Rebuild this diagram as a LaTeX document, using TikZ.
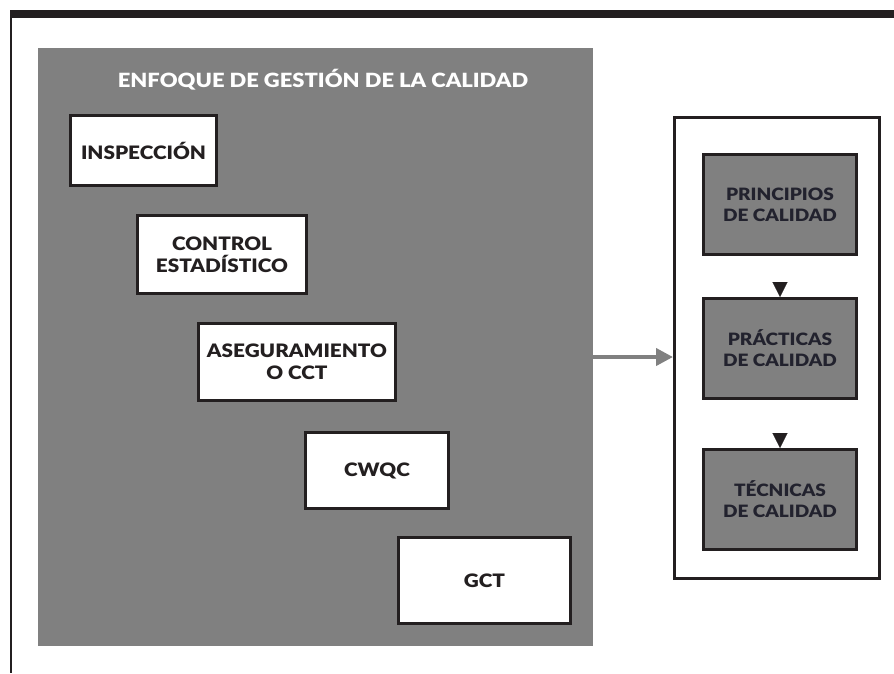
\documentclass[tikz,border=0pt]{standalone}
\usepackage{fontspec}
\setmainfont{Lato}[FakeStretch=1.12,BoldFont={Lato Black},BoldFeatures={FakeStretch=1.12}]
\usetikzlibrary{arrows.meta}
\definecolor{ink}{HTML}{231F20}
\definecolor{panelgray}{HTML}{808080}
\definecolor{navyink}{HTML}{22222E}
\begin{document}
\begin{tikzpicture}[x=1pt,y=-1pt,
  lbox/.style={draw=ink,line width=3pt,fill=white,text=ink,align=center,
    inner sep=0pt,anchor=north west,font=\bfseries\fontsize{18.5}{22}\selectfont},
  rbox/.style={draw=ink,line width=3pt,fill=panelgray,text=navyink,align=center,
    inner sep=0pt,anchor=north west,minimum width=153pt,minimum height=100pt,
    font=\bfseries\fontsize{17}{21}\selectfont},
  tri/.style={-{Triangle[width=15pt,length=15pt]},line width=0.1pt,draw=ink,fill=ink},
  grayarrow/.style={draw=panelgray,line width=4pt,-{Triangle[width=17pt,length=17pt]}}]
\useasboundingbox (0,0) rectangle (894,673);
% frame
\fill[ink] (10,9.5) rectangle (894,18.3);
\draw[ink,line width=2pt] (11,18) -- (11,673);
% grey panel
\node[fill=panelgray,draw=none,inner sep=0pt,anchor=north west,minimum width=555pt,minimum height=598pt] (panel) at (38,48) {};
\node[text=white,font=\bfseries\fontsize{19.6}{20}\selectfont] (title) at (323,80) {ENFOQUE DE GESTIÓN DE LA CALIDAD};
% left boxes
\node[lbox,minimum width=146pt,minimum height=70pt] (insp) at (69,114) {INSPECCIÓN};
\node[lbox,minimum width=169pt,minimum height=78pt] (ctrl) at (136,214) {CONTROL\\ESTADÍSTICO};
\node[lbox,minimum width=197pt,minimum height=77pt] (aseg) at (197,322) {ASEGURAMIENTO\\O CCT};
\node[lbox,minimum width=143pt,minimum height=76pt] (cwqc) at (304,431) {CWQC};
\node[lbox,minimum width=172pt,minimum height=86pt] (gct) at (397,536) {GCT};
% right side
\node[draw=ink,line width=3pt,fill=white,inner sep=0pt,anchor=north west,minimum width=205pt,minimum height=461pt] (outer) at (673,116) {};
\node[rbox] (prin) at (702,153) {PRINCIPIOS\\DE CALIDAD};
\node[rbox] (prac) at (702,297) {PRÁCTICAS\\DE CALIDAD};
\node[rbox] (tec) at (702,448) {TÉCNICAS\\DE CALIDAD};
\draw[tri,shorten <=26pt] (prin.south) -- (prac.north);
\draw[tri,shorten <=34pt] (prac.south) -- (tec.north);
\draw[grayarrow] (panel.east |- 0,357) -- (outer.west |- 0,357);
\end{tikzpicture}
\end{document}
